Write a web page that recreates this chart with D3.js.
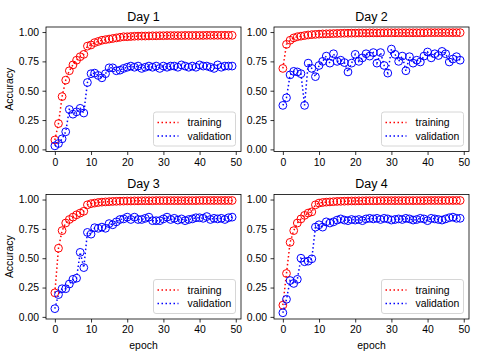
<!DOCTYPE html>
<html>
<head>
<meta charset="utf-8">
<script src="https://cdn.jsdelivr.net/npm/d3@7"></script>
<style>
  body { margin: 0; background: #fff; }
  svg { font-family: "Liberation Sans", Arial, sans-serif; }
</style>
</head>
<body>
<div id="chart"></div>
<script>
const epochs = d3.range(50);
const titles = ['Day 1', 'Day 2', 'Day 3', 'Day 4'];
const xTicks = [0, 10, 20, 30, 40, 50];
const yTicks = [0, 0.25, 0.5, 0.75, 1];

const train1 = [0.08,0.22,0.45,0.59,0.67,0.72,0.76,0.79,0.81,0.88,
  0.89,0.91,0.92,0.93,0.935,0.94,0.945,0.95,0.955,0.96,
  0.96,0.962,0.964,0.965,0.966,0.966,0.967,0.968,0.968,0.969,
  0.969,0.97,0.97,0.97,0.97,0.97,0.971,0.971,0.971,0.971,
  0.971,0.971,0.972,0.972,0.972,0.972,0.972,0.972,0.972,0.972];
const val1 = [0.03,0.05,0.09,0.15,0.34,0.30,0.32,0.35,0.31,0.57,
  0.645,0.65,0.63,0.61,0.645,0.695,0.695,0.67,0.675,0.69,
  0.70,0.71,0.70,0.71,0.69,0.70,0.71,0.70,0.71,0.69,
  0.71,0.70,0.71,0.71,0.70,0.72,0.71,0.70,0.71,0.70,
  0.72,0.71,0.71,0.70,0.69,0.72,0.70,0.71,0.71,0.71];

const train2 = [0.69,0.895,0.93,0.95,0.96,0.965,0.97,0.975,0.978,0.98,
  0.982,0.984,0.985,0.986,0.987,0.988,0.989,0.99,0.99,0.991,
  0.991,0.992,0.992,0.992,0.993,0.993,0.993,0.993,0.994,0.994,
  0.994,0.994,0.994,0.994,0.994,0.994,0.994,0.994,0.994,0.994,
  0.995,0.995,0.995,0.995,0.995,0.995,0.995,0.995,0.995,0.995];
const val2 = [0.375,0.44,0.635,0.665,0.66,0.645,0.375,0.735,0.69,0.62,
  0.715,0.75,0.795,0.735,0.815,0.75,0.76,0.74,0.66,0.735,
  0.81,0.75,0.78,0.815,0.795,0.825,0.735,0.825,0.715,0.65,
  0.855,0.81,0.75,0.795,0.67,0.79,0.735,0.76,0.745,0.795,
  0.83,0.78,0.815,0.80,0.835,0.815,0.745,0.77,0.79,0.76];

const train3 = [0.205,0.585,0.735,0.80,0.83,0.85,0.87,0.885,0.90,0.955,
  0.965,0.97,0.975,0.978,0.98,0.982,0.984,0.985,0.986,0.987,
  0.988,0.988,0.989,0.989,0.99,0.99,0.99,0.99,0.991,0.991,
  0.991,0.991,0.991,0.991,0.991,0.991,0.991,0.991,0.991,0.991,
  0.992,0.992,0.992,0.992,0.992,0.992,0.992,0.992,0.992,0.992];
const val3 = [0.07,0.19,0.24,0.24,0.28,0.32,0.33,0.55,0.42,0.72,
  0.705,0.76,0.755,0.765,0.755,0.795,0.785,0.81,0.83,0.835,
  0.85,0.83,0.85,0.83,0.83,0.84,0.85,0.82,0.82,0.82,
  0.835,0.85,0.83,0.84,0.825,0.835,0.82,0.83,0.835,0.845,
  0.845,0.84,0.855,0.83,0.84,0.835,0.84,0.83,0.845,0.85];

const train4 = [0.10,0.37,0.635,0.735,0.80,0.835,0.865,0.885,0.895,0.955,
  0.97,0.975,0.978,0.98,0.982,0.984,0.985,0.986,0.987,0.988,
  0.988,0.989,0.989,0.99,0.99,0.99,0.99,0.991,0.991,0.991,
  0.991,0.991,0.991,0.991,0.991,0.991,0.991,0.991,0.991,0.991,
  0.992,0.992,0.992,0.992,0.992,0.992,0.992,0.992,0.992,0.992];
const val4 = [0.035,0.15,0.31,0.285,0.32,0.50,0.47,0.475,0.495,0.765,
  0.785,0.765,0.81,0.80,0.81,0.825,0.835,0.825,0.82,0.83,
  0.825,0.83,0.82,0.835,0.84,0.835,0.84,0.83,0.84,0.835,
  0.825,0.83,0.835,0.83,0.84,0.835,0.825,0.83,0.84,0.835,
  0.82,0.84,0.835,0.83,0.825,0.835,0.845,0.85,0.84,0.84];

const trainSeries = [train1, train2, train3, train4];
const valSeries = [val1, val2, val3, val4];

const width = 480;
const height = 360;

// axes boxes in pixels (left, top, right, bottom)
const boxes = [
  [46, 27, 241, 151.5],
  [274, 27, 469, 151.5],
  [46, 194.5, 241, 319],
  [274, 194.5, 469, 319],
];

const svg = d3.select('#chart').append('svg')
  .attr('width', width)
  .attr('height', height);

svg.append('rect').attr('width', width).attr('height', height).attr('fill', '#fff');

boxes.forEach((b, i) => {
  const [l, t, r, bt] = b;
  const x = d3.scaleLinear().domain([-2.45, 51.45]).range([l, r]);
  const y = d3.scaleLinear().domain([-0.018, 1.043]).range([bt, t]);

  const g = svg.append('g');

  const xAxis = g.append('g')
    .attr('transform', `translate(0,${bt})`)
    .call(d3.axisBottom(x).tickValues(xTicks).tickSize(3.5).tickPadding(3.5).tickFormat(d3.format('d')));
  const yAxis = g.append('g')
    .attr('transform', `translate(${l},0)`)
    .call(d3.axisLeft(y).tickValues(yTicks).tickSize(3.5).tickPadding(3.5).tickFormat(d3.format('.2f')));

  [xAxis, yAxis].forEach(a => {
    a.select('.domain').remove();
    a.selectAll('line').attr('stroke', '#000').attr('stroke-width', 0.8);
    a.selectAll('text').attr('font-size', 10.4).attr('fill', '#000')
      .attr('font-family', '"Liberation Sans", Arial, sans-serif');
  });

  const lines = [
    { data: trainSeries[i], color: '#ff0000' },
    { data: valSeries[i], color: '#0000ff' },
  ];

  const lineGen = d3.line().x((d, j) => x(epochs[j])).y(d => y(d));

  lines.forEach(s => {
    const sg = g.append('g');
    sg.append('path')
      .attr('d', lineGen(s.data))
      .attr('fill', 'none')
      .attr('stroke', s.color)
      .attr('stroke-width', 1.5)
      .attr('stroke-dasharray', '1.5,2.5');
    sg.selectAll('circle').data(s.data).enter().append('circle')
      .attr('cx', (d, j) => x(epochs[j]))
      .attr('cy', d => y(d))
      .attr('r', 3.9)
      .attr('fill', 'none')
      .attr('stroke', s.color)
      .attr('stroke-width', 1);
  });

  // frame
  g.append('rect')
    .attr('x', l).attr('y', t)
    .attr('width', r - l).attr('height', bt - t)
    .attr('fill', 'none').attr('stroke', '#000').attr('stroke-width', 0.8);

  // title
  g.append('text')
    .attr('x', (l + r) / 2).attr('y', t - 6.5)
    .attr('text-anchor', 'middle')
    .attr('font-size', 12.5)
    .text(titles[i]);

  // legend
  const lw = 82, lh = 34;
  const lx = r - 5.5 - lw, ly = bt - 5.5 - lh;
  const leg = g.append('g');
  leg.append('rect')
    .attr('x', lx).attr('y', ly)
    .attr('width', lw).attr('height', lh)
    .attr('rx', 2.5)
    .attr('fill', '#fff').attr('fill-opacity', 0.8)
    .attr('stroke', '#cccccc').attr('stroke-width', 0.8);
  [['training', '#ff0000'], ['validation', '#0000ff']].forEach((e, k) => {
    const cy = ly + 10.5 + k * 13.5;
    leg.append('line')
      .attr('x1', lx + 4).attr('x2', lx + 25)
      .attr('y1', cy).attr('y2', cy)
      .attr('stroke', e[1]).attr('stroke-width', 1.5)
      .attr('stroke-dasharray', '1.5,2.5');
    leg.append('text')
      .attr('x', lx + 34).attr('y', cy + 3.7)
      .attr('font-size', 10.4)
      .text(e[0]);
  });

  if (i % 2 === 0) {
    g.append('text')
      .attr('transform', `translate(13,${(t + bt) / 2}) rotate(-90)`)
      .attr('text-anchor', 'middle')
      .attr('font-size', 10.4)
      .text('Accuracy');
  }
  if (i >= 2) {
    g.append('text')
      .attr('x', (l + r) / 2).attr('y', 349)
      .attr('text-anchor', 'middle')
      .attr('font-size', 10.4)
      .text('epoch');
  }
});
</script>
</body>
</html>
